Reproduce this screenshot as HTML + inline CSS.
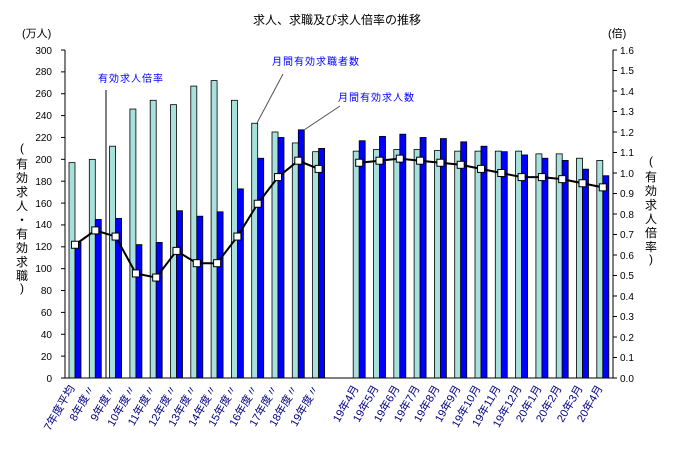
<!DOCTYPE html>
<html><head><meta charset="utf-8"><style>
body{margin:0;background:#fff}
svg{display:block;font-family:"Liberation Sans","Noto Sans CJK JP",sans-serif}
</style></head><body>
<svg id="s" width="673" height="452" viewBox="0 0 673 452" xmlns="http://www.w3.org/2000/svg">
<rect width="673" height="452" fill="#fff"/>
<text x="337" y="24" font-size="12" text-anchor="middle">求人、求職及び求人倍率の推移</text>
<text x="22" y="37" font-size="11">(万人)</text>
<text x="608" y="37" font-size="11">(倍)</text>
<g font-size="10" text-anchor="end">
<text x="52" y="382">0</text><text x="52" y="360">20</text><text x="52" y="338">40</text><text x="52" y="316">60</text><text x="52" y="294">80</text><text x="52" y="272">100</text><text x="52" y="250">120</text><text x="52" y="228">140</text><text x="52" y="207">160</text><text x="52" y="185">180</text><text x="52" y="163">200</text><text x="52" y="141">220</text><text x="52" y="119">240</text><text x="52" y="97">260</text><text x="52" y="75">280</text><text x="52" y="54">300</text>
</g>
<g font-size="10">
<text x="620" y="382">0.0</text><text x="620" y="361">0.1</text><text x="620" y="341">0.2</text><text x="620" y="320">0.3</text><text x="620" y="300">0.4</text><text x="620" y="279">0.5</text><text x="620" y="259">0.6</text><text x="620" y="238">0.7</text><text x="620" y="218">0.8</text><text x="620" y="197">0.9</text><text x="620" y="177">1.0</text><text x="620" y="156">1.1</text><text x="620" y="136">1.2</text><text x="620" y="115">1.3</text><text x="620" y="95">1.4</text><text x="620" y="74">1.5</text><text x="620" y="54">1.6</text>
</g>
<g font-size="12" text-anchor="middle">
<text x="22" y="152">(</text><text x="22" y="168">有</text><text x="22" y="182">効</text><text x="22" y="196">求</text><text x="22" y="210">人</text><text x="22" y="224">・</text><text x="22" y="238">有</text><text x="22" y="252">効</text><text x="22" y="266">求</text><text x="22" y="280">職</text><text x="22" y="292">)</text>
<text x="651" y="165">(</text><text x="651" y="181">有</text><text x="651" y="195">効</text><text x="651" y="209">求</text><text x="651" y="223">人</text><text x="651" y="237">倍</text><text x="651" y="251">率</text><text x="651" y="263">)</text>
</g>
<g id="bars"></g>
<line x1="65" y1="50" x2="65" y2="378" stroke="#000"/>
<line x1="613" y1="50" x2="613" y2="378" stroke="#000"/>
<line x1="65" y1="378" x2="613" y2="378" stroke="#000"/>
<g id="ticks" stroke="#000"></g>
<g id="line"></g>
<g font-size="10" fill="#0000ff" letter-spacing="1">
<text x="98" y="82">有効求人倍率</text>
<text x="272" y="65">月間有効求職者数</text>
<text x="338" y="101">月間有効求人数</text>
</g>
<line x1="106" y1="90" x2="106" y2="378" stroke="#000"/>
<line x1="283" y1="74" x2="257" y2="123" stroke="#555"/>
<line x1="340" y1="106" x2="304" y2="130" stroke="#555"/>
<g font-size="11" fill="#000080" text-anchor="end">
<text transform="translate(75,388) rotate(-60)">7年度平均</text>
<text transform="translate(95,388) rotate(-60)">8年度〃</text>
<text transform="translate(116,388) rotate(-60)">9年度〃</text>
<text transform="translate(136,388) rotate(-60)">10年度〃</text>
<text transform="translate(156,388) rotate(-60)">11年度〃</text>
<text transform="translate(177,388) rotate(-60)">12年度〃</text>
<text transform="translate(197,388) rotate(-60)">13年度〃</text>
<text transform="translate(217,388) rotate(-60)">14年度〃</text>
<text transform="translate(237,388) rotate(-60)">15年度〃</text>
<text transform="translate(258,388) rotate(-60)">16年度〃</text>
<text transform="translate(278,388) rotate(-60)">17年度〃</text>
<text transform="translate(298,388) rotate(-60)">18年度〃</text>
<text transform="translate(319,388) rotate(-60)">19年度〃</text>
<text transform="translate(359,388) rotate(-60)">19年4月</text>
<text transform="translate(379,388) rotate(-60)">19年5月</text>
<text transform="translate(400,388) rotate(-60)">19年6月</text>
<text transform="translate(420,388) rotate(-60)">19年7月</text>
<text transform="translate(440,388) rotate(-60)">19年8月</text>
<text transform="translate(461,388) rotate(-60)">19年9月</text>
<text transform="translate(481,388) rotate(-60)">19年10月</text>
<text transform="translate(501,388) rotate(-60)">19年11月</text>
<text transform="translate(522,388) rotate(-60)">19年12月</text>
<text transform="translate(542,388) rotate(-60)">20年1月</text>
<text transform="translate(562,388) rotate(-60)">20年2月</text>
<text transform="translate(583,388) rotate(-60)">20年3月</text>
<text transform="translate(603,388) rotate(-60)">20年4月</text>
</g>
<script>
var NS="http://www.w3.org/2000/svg";
function el(p,t,a){var e=document.createElementNS(NS,t);for(var k in a)e.setAttribute(k,a[k]);document.getElementById(p).appendChild(e);return e;}
var k=328/300;
var L=[197,200,212,246,254,250,267,272,254,233,225,215,207,null,207.5,209,209,209,208,207.5,207.5,207.5,207.5,205,205,201,199];
var D=[124,145,146,122,124,153,148,152,173,201,220,227,210,null,217,221,223,220,219,216,212,207,204,201,199,191,185];
var R=[0.65,0.72,0.69,0.51,0.49,0.62,0.56,0.56,0.69,0.85,0.98,1.06,1.02,null,1.05,1.06,1.07,1.06,1.05,1.04,1.02,1.00,0.98,0.98,0.97,0.95,0.93];
var W=20.3;
for(var i=0;i<27;i++){if(L[i]==null)continue;var x=65+i*W+4;
el("bars","rect",{x:x,y:378-L[i]*k,width:6,height:L[i]*k,fill:"#a8e0dc",stroke:"#000","stroke-width":0.8});
el("bars","rect",{x:x+6,y:378-D[i]*k,width:6,height:D[i]*k,fill:"#0000ff",stroke:"#000","stroke-width":0.8});}
for(var v=0;v<=15;v++){var y=378-v*328/15;el("ticks","line",{x1:61,y1:y,x2:65,y2:y});}
for(var v=0;v<=16;v++){var y=378-v*328/16;el("ticks","line",{x1:613,y1:y,x2:617,y2:y});}
function line(a,b){var p=[];for(var i=a;i<=b;i++)p.push((65+i*W+10)+","+(378-R[i]*205));
el("line","polyline",{points:p.join(" "),fill:"none",stroke:"#000","stroke-width":2});
for(var i=a;i<=b;i++)el("line","rect",{x:65+i*W+10-3.5,y:378-R[i]*205-3.5,width:7,height:7,fill:"#fff",stroke:"#000","stroke-width":1});}
line(0,12);line(14,26);
</script>
</svg>
</body></html>
